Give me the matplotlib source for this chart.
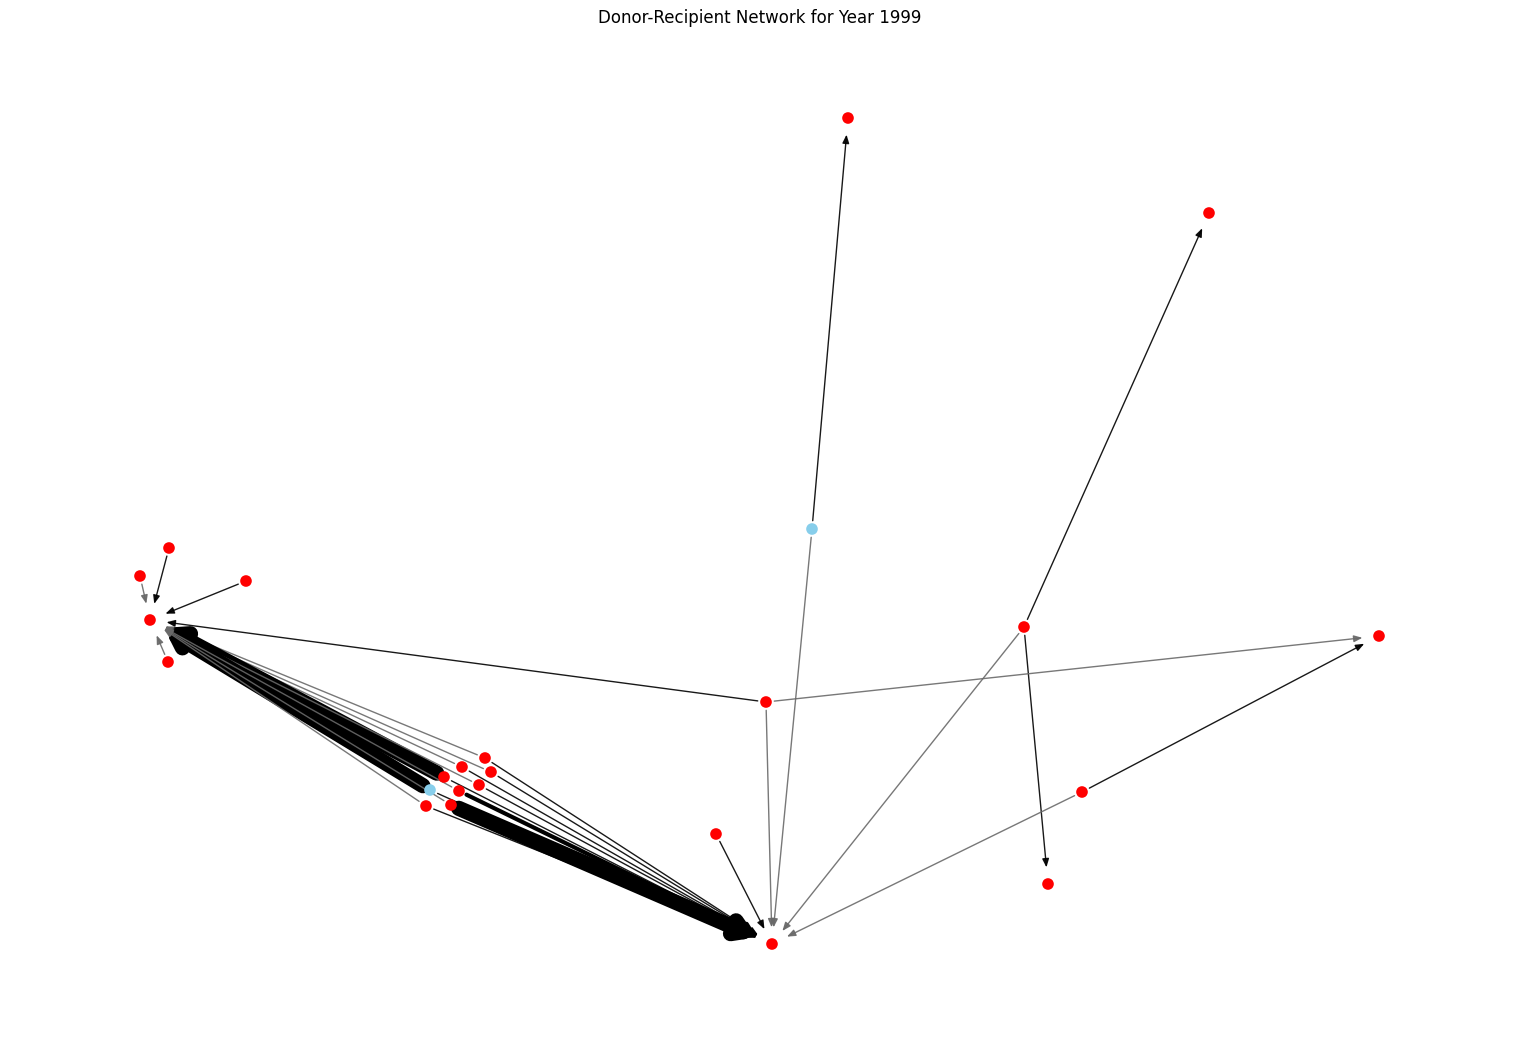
import matplotlib.pyplot as plt

# node positions (layout coordinates, y grows downward)
nodes = ["A", "B", "n1", "n2", "n3", "n4", "C", "L1", "D", "E", "F", "G", "H", "I", "J",
         "c1", "c2", "c3", "c4", "c5", "L2", "c6", "c7", "c8"]
xs = [150, 772, 169, 140, 246, 168, 848, 812, 1209, 1024, 1048, 1379, 766, 1082, 716,
      485, 462, 491, 444, 479, 430, 459, 426, 451]
ys = [620, 944, 548, 576, 581, 662, 118, 529, 213, 627, 884, 636, 702, 792, 834,
      758, 767, 772, 777, 785, 790, 791, 806, 805]
donor_nodes = ["L1", "L2"]

# edges: (source, target, width)
edges = [
    ("n1", "A", 1), ("n2", "A", 1), ("n3", "A", 1), ("n4", "A", 1),
    ("L1", "C", 1), ("L1", "B", 1),
    ("E", "D", 1), ("E", "B", 1), ("E", "F", 1),
    ("H", "G", 1), ("H", "A", 1), ("H", "B", 1),
    ("I", "G", 1), ("I", "B", 1), ("J", "B", 1),
    ("c1", "A", 1), ("c1", "B", 1), ("c2", "A", 1), ("c2", "B", 1),
    ("c3", "A", 1), ("c3", "B", 1), ("c4", "A", 11), ("c4", "B", 1),
    ("c5", "A", 1), ("c5", "B", 1), ("L2", "A", 11), ("L2", "B", 1),
    ("c6", "A", 1), ("c6", "B", 3), ("c7", "A", 1), ("c7", "B", 1),
    ("c8", "A", 1), ("c8", "B", 11),
]
edge_colors = ["black", "dimgray"]

pos = {n: (x, y) for n, x, y in zip(nodes, xs, ys)}

fig = plt.figure(figsize=(15.2, 10.42), dpi=100)
ax = fig.add_axes([0, 0, 1, 1])

for i, (s, t, w) in enumerate(edges):
    col = edge_colors[i % 2] if w == 1 else "black"
    ax.annotate("", xy=pos[t], xytext=pos[s],
                arrowprops=dict(arrowstyle="-|>,head_length=0.5,head_width=0.2" if w == 1
                                else "-|>,head_length=0.8,head_width=0.5",
                                color=col, lw=w, alpha=0.9 if w == 1 else 1,
                                shrinkA=6, shrinkB=12, capstyle="round",
                                joinstyle="round"),
                zorder=1)

colors = ["skyblue" if n in donor_nodes else "red" for n in nodes]
ax.scatter(xs, ys, s=70, c=colors, zorder=3, edgecolors="none")

ax.set_xlim(0, 1520)
ax.set_ylim(1042, 0)
ax.axis("off")
fig.text(0.5, 1 - 18 / 1042, "Donor-Recipient Network for Year 1999",
         ha="center", va="center", fontsize=12)

fig.savefig("out.png", dpi=100)
